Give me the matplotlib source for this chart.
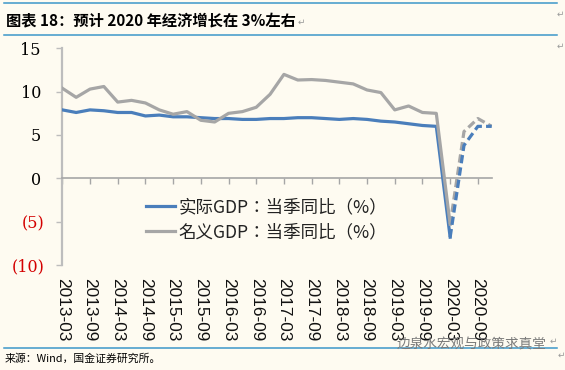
import matplotlib
matplotlib.use("Agg")
import matplotlib.pyplot as plt
from matplotlib.lines import Line2D
import matplotlib.transforms as mtransforms

# ---------------- data ----------------
quarters = ["2013-03", "2013-06", "2013-09", "2013-12", "2014-03", "2014-06", "2014-09", "2014-12",
            "2015-03", "2015-06", "2015-09", "2015-12", "2016-03", "2016-06", "2016-09", "2016-12",
            "2017-03", "2017-06", "2017-09", "2017-12", "2018-03", "2018-06", "2018-09", "2018-12",
            "2019-03", "2019-06", "2019-09", "2019-12", "2020-03", "2020-06", "2020-09", "2020-12"]
tick_labels = ["2013-03", "2013-09", "2014-03", "2014-09", "2015-03", "2015-09", "2016-03", "2016-09",
               "2017-03", "2017-09", "2018-03", "2018-09", "2019-03", "2019-09", "2020-03", "2020-09"]

real_actual = [7.9, 7.6, 7.9, 7.8, 7.6, 7.6, 7.2, 7.3, 7.1, 7.1, 7.0, 6.9, 6.9, 6.8, 6.8, 6.9,
               6.9, 7.0, 7.0, 6.9, 6.8, 6.9, 6.8, 6.6, 6.5, 6.3, 6.1, 6.0, -6.8]
real_forecast = [3.8, 6.0, 6.0]
nominal_actual = [10.4, 9.35, 10.3, 10.6, 8.8, 9.0, 8.7, 7.9, 7.4, 7.7, 6.7, 6.5, 7.5, 7.7, 8.2, 9.7,
                  12.0, 11.35, 11.4, 11.3, 11.1, 10.9, 10.2, 9.9, 7.9, 8.35, 7.6, 7.5, -5.3]
nominal_forecast = [5.4, 6.9, 6.0]

series_names = ["实际GDP：当季同比（%）", "名义GDP：当季同比（%）"]
y_ticks = [-10, -5, 0, 5, 10, 15]
y_tick_labels = ["(10)", "(5)", "0\u2009", "5\u2009", "10\u2009", "15\u2009"]

title = "图表 18：预计 2020 年经济增长在 3%左右"
source = "来源：Wind，国金证券研究所。"
watermark = "边泉水宏观与政策求真堂"

# ---------------- style ----------------
BG = "#FEFBF1"
BLUE = "#4A7EBB"
GRAY = "#A6A6A6"
AXIS = "#A6A6A6"
RULE = "#3C97C9"
RED = "#D40000"
CJK = ["Noto Sans CJK SC", "DejaVu Sans"]
CJK_LEG = ["Noto Sans CJK TC", "DejaVu Sans"]

W, H = 565, 370
fig = plt.figure(figsize=(W / 100, H / 100), dpi=100, facecolor=BG)

left_px, right_px, top_px, bot_px = 62.3, 491.7, 48.4, 264.9
ax = fig.add_axes([left_px / W, 1 - bot_px / H, (right_px - left_px) / W, (bot_px - top_px) / H])
ax.set_facecolor(BG)

n_act = len(real_actual)
x_act = list(range(n_act))
x_fc = list(range(n_act - 1, n_act + len(real_forecast)))

lw = 2.3
dash = (0, (2.6, 1.3))
ax.plot(x_act, real_actual, color=BLUE, lw=lw, solid_joinstyle="round", zorder=3)
ax.plot(x_act, nominal_actual, color=GRAY, lw=lw, solid_joinstyle="round", zorder=4)
ax.plot(x_fc, [nominal_actual[-1]] + nominal_forecast, color=GRAY, lw=lw, ls=dash, zorder=3)
ax.plot(x_fc, [real_actual[-1]] + real_forecast, color=BLUE, lw=lw, ls=dash, zorder=4)

ax.set_xlim(0, len(quarters) - 1)
ax.set_ylim(-10, 15)

for s in ["top", "right"]:
    ax.spines[s].set_visible(False)
ax.spines["left"].set_color("#BDBDBD")
ax.spines["left"].set_linewidth(1.6)
ax.spines["bottom"].set_position(("data", 0))
ax.spines["bottom"].set_color(AXIS)
ax.spines["bottom"].set_linewidth(1.2)

ax.set_xticks(list(range(0, len(quarters), 2)))
ax.tick_params(axis="x", direction="out", length=4.3, width=1.0, color=AXIS, labelbottom=False)

ax.set_yticks(y_ticks)
ax.set_yticklabels(y_tick_labels, fontfamily="DejaVu Serif", fontsize=11.5)
ax.tick_params(axis="y", direction="out", length=4.5, width=1.0, color="#BDBDBD", pad=8.5)
for lab, v in zip(ax.get_yticklabels(), y_ticks):
    lab.set_color(RED if v < 0 else "black")

# category labels at the bottom of the plot
trans = mtransforms.blended_transform_factory(ax.transData, ax.transAxes)
for i, lab in enumerate(tick_labels):
    ax.text(2 * i, -(278.3 - bot_px) / (bot_px - top_px), lab, transform=trans, rotation=-90,
            ha="center", va="top", fontsize=12.4, fontfamily="Liberation Sans", color="#111111",
            zorder=1)

# legend
leg_handles = [Line2D([], [], color=BLUE, lw=lw), Line2D([], [], color=GRAY, lw=lw)]
leg = ax.legend(leg_handles, series_names, loc="upper left",
                bbox_to_anchor=(146 / W, 1 - 198.5 / H), bbox_transform=fig.transFigure,
                frameon=False, borderpad=0, borderaxespad=0, handlelength=1.65,
                handletextpad=0.2, labelspacing=0.38, prop={"family": CJK_LEG, "size": 12.6})
for t in leg.get_texts():
    t.set_color("#222222")

# header / footer
fig.add_artist(Line2D([4 / W, 557 / W], [1 - 3.3 / H] * 2, color=RULE, lw=1.1))
fig.add_artist(Line2D([4 / W, 557 / W], [1 - 35 / H] * 2, color=RULE, lw=1.1))
fig.add_artist(Line2D([4 / W, 557 / W], [1 - 348.3 / H] * 2, color=RULE, lw=1.1))
fig.text(6.5 / W, 1 - 21.7 / H, title, fontfamily=CJK, fontsize=11, fontweight="bold",
         ha="left", va="center", color="black")
fig.text(4.5 / W, 1 - 358.5 / H, source, fontfamily=CJK, fontsize=7.8, ha="left", va="center",
         color="black")
fig.text(397 / W, 1 - 344.5 / H, watermark, fontfamily=CJK, fontsize=9.8, ha="left", va="center",
         color="#7A7A7A", zorder=5)

marks = [(301, 22), (560, 14), (560, 46), (553, 341), (561, 355)]
for mx, my in marks:
    fig.text(mx / W, 1 - my / H, "↵", fontfamily=["DejaVu Sans"], fontsize=6.5, ha="center",
             va="center", color="#9A9A9A")

fig.savefig("out.png", dpi=100, facecolor=BG)
